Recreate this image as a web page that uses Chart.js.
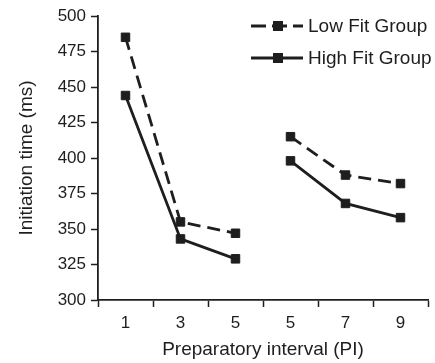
<!DOCTYPE html>
<html>
<head>
<meta charset="utf-8">
<script src="https://cdn.jsdelivr.net/npm/chart.js@4/dist/chart.umd.min.js"></script>
<style>
  html, body { margin: 0; padding: 0; background: #fff; }
  #wrap { width: 435px; height: 363px; position: relative; }
</style>
</head>
<body>
<div id="wrap"><canvas id="c" width="435" height="363"></canvas></div>
<script>
const categories = ['1', '3', '5', '5', '7', '9'];
const lowFit  = [485, 355, 347, null, null, null];
const lowFit2 = [null, null, null, 415, 388, 382];
const highFit  = [444, 343, 329, null, null, null];
const highFit2 = [null, null, null, 398, 368, 358];
const yTicks = [300, 325, 350, 375, 400, 425, 450, 475, 500];
const seriesNames = ['Low Fit Group', 'High Fit Group'];

const INK = '#1e1e1e';
const FONT = "'Liberation Sans', Arial, Helvetica, sans-serif";
const DASH = [13, 7];

function ds(data, dashed, label) {
  return {
    label: label,
    data: data,
    borderColor: INK,
    backgroundColor: INK,
    borderWidth: 2.8,
    borderDash: dashed ? DASH : [],
    pointStyle: 'rect',
    pointRadius: 6,
    pointBorderWidth: 1,
    pointBackgroundColor: INK,
    pointBorderColor: INK,
    spanGaps: false,
    tension: 0
  };
}

const legendPlugin = {
  id: 'lineLegend',
  afterDraw(chart) {
    const ctx = chart.ctx;
    const items = [
      { name: seriesNames[0], dashed: true, y: 26 },
      { name: seriesNames[1], dashed: false, y: 58 }
    ];
    ctx.save();
    items.forEach(it => {
      ctx.strokeStyle = INK;
      ctx.lineWidth = 3;
      ctx.setLineDash(it.dashed ? [15, 6] : []);
      ctx.beginPath();
      ctx.moveTo(251, it.y);
      ctx.lineTo(303, it.y);
      ctx.stroke();
      ctx.setLineDash([]);
      ctx.fillStyle = INK;
      ctx.fillRect(273, it.y - 5, 10, 10);
      ctx.font = '19px ' + FONT;
      ctx.textBaseline = 'middle';
      ctx.textAlign = 'left';
      ctx.fillText(it.name, 308, it.y + 1);
    });
    ctx.restore();
  }
};

new Chart(document.getElementById('c'), {
  type: 'line',
  data: {
    labels: categories,
    datasets: [
      ds(lowFit, true, seriesNames[0]),
      ds(lowFit2, true, seriesNames[0] + ' b'),
      ds(highFit, false, seriesNames[1]),
      ds(highFit2, false, seriesNames[1] + ' b')
    ]
  },
  options: {
    responsive: false,
    animation: false,
    devicePixelRatio: 1,
    layout: { padding: { left: 0, right: 3, top: 16, bottom: 0 } },
    plugins: {
      legend: { display: false },
      tooltip: { enabled: false }
    },
    scales: {
      x: {
        type: 'category',
        offset: true,
        grid: {
          offset: true,
          drawOnChartArea: false,
          drawTicks: true,
          tickLength: 7,
          tickColor: INK,
          tickWidth: 1.5
        },
        border: { display: true, color: INK, width: 1.8 },
        ticks: {
          color: INK,
          font: { family: FONT, size: 17 },
          padding: 6,
          maxRotation: 0,
          autoSkip: false
        },
        title: {
          display: true,
          text: 'Preparatory interval (PI)',
          color: INK,
          font: { family: FONT, size: 19 },
          padding: { top: 0, bottom: 2 }
        },
        afterFit(scale) { scale.height = 63; }
      },
      y: {
        min: 300,
        max: 500,
        afterBuildTicks(scale) { scale.ticks = yTicks.map(v => ({ value: v })); },
        grid: {
          drawOnChartArea: false,
          drawTicks: true,
          tickLength: 7,
          tickColor: INK,
          tickWidth: 1.5
        },
        border: { display: true, color: INK, width: 1.8 },
        ticks: {
          color: INK,
          font: { family: FONT, size: 17 },
          padding: 5
        },
        title: {
          display: true,
          text: 'Initiation time (ms)',
          color: INK,
          font: { family: FONT, size: 19 },
          padding: { top: 15, bottom: 0 }
        },
        afterFit(scale) { scale.width = 98; }
      }
    }
  },
  plugins: [legendPlugin]
});
</script>
</body>
</html>
